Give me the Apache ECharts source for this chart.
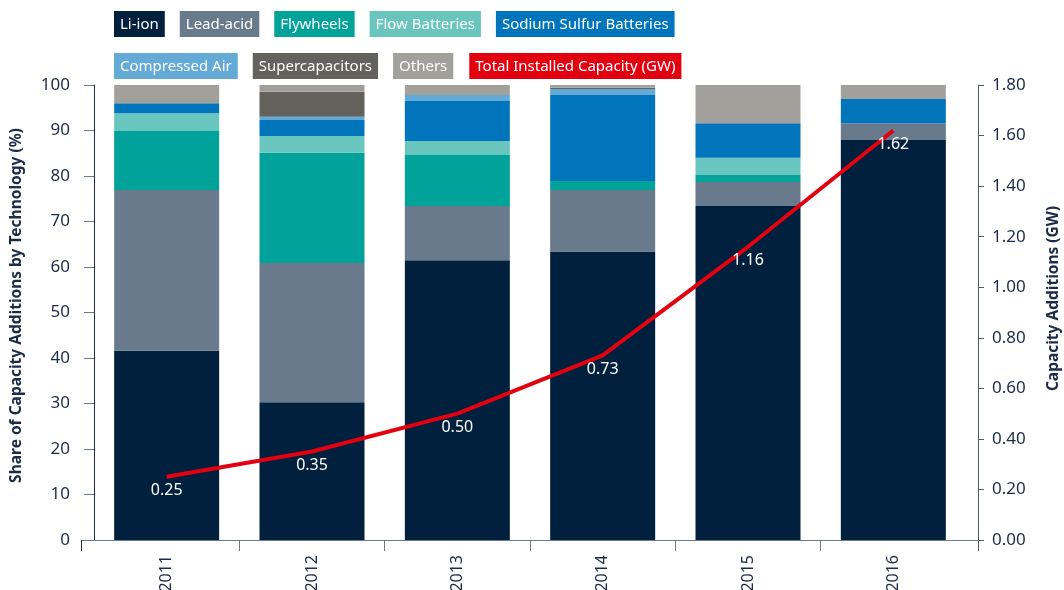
<!DOCTYPE html>
<html>
<head>
<meta charset="utf-8">
<script src="https://cdn.jsdelivr.net/npm/echarts@6/dist/echarts.min.js"></script>
<style>
  html, body { margin: 0; padding: 0; background: #fff; }
  #chart { width: 1064px; height: 590px; }
</style>
</head>
<body>
<div id="chart"></div>
<script>
// data
var years = ["2011", "2012", "2013", "2014", "2015", "2016"];
var liIon = [41.6, 30.3, 61.5, 63.4, 73.4, 87.9];
var leadAcid = [35.3, 30.6, 11.9, 13.5, 5.3, 3.7];
var flywheels = [13.0, 24.2, 11.2, 2.0, 1.5, 0];
var flowBatteries = [3.9, 3.7, 3.1, 0, 3.8, 0];
var sodiumSulfur = [2.2, 3.5, 8.8, 18.9, 7.6, 5.3];
var compressedAir = [0, 0.7, 1.3, 1.3, 0, 0];
var supercapacitors = [0, 5.5, 0, 0.3, 0, 0];
var others = [4.0, 1.5, 2.2, 0.6, 8.4, 3.1];
var totalCapacity = [0.25, 0.35, 0.50, 0.73, 1.16, 1.62];

var names = ["Li-ion", "Lead-acid", "Flywheels", "Flow Batteries", "Sodium Sulfur Batteries",
  "Compressed Air", "Supercapacitors", "Others", "Total Installed Capacity (GW)"];
var colors = ["#00203d", "#687a8b", "#00a29a", "#68c6bf", "#0075bb",
  "#64aad7", "#63625c", "#a2a09b", "#e3000f"];
var barData = [liIon, leadAcid, flywheels, flowBatteries, sodiumSulfur,
  compressedAir, supercapacitors, others];

var font = "Noto Sans";
var navy = "#1c2b48";

var rich = {};
names.forEach(function (n, i) {
  rich["c" + i] = {
    backgroundColor: colors[i],
    color: "#fff",
    fontFamily: font,
    fontSize: 15,
    padding: [6, 6, 5, 6],
  };
});
function legendFmt(name) {
  return "{c" + names.indexOf(name) + "|" + name + "}";
}
function legendRow(data, top) {
  return {
    data: data,
    left: 109,
    top: top,
    itemWidth: 0,
    itemHeight: 0,
    itemGap: 10,
    padding: 0,
    selectedMode: false,
    formatter: legendFmt,
    textStyle: { rich: rich },
  };
}

var series = barData.map(function (d, i) {
  return {
    name: names[i],
    type: "bar",
    stack: "share",
    data: d,
    barWidth: 105,
    itemStyle: { color: colors[i] },
  };
});
series.push({
  name: names[8],
  type: "line",
  yAxisIndex: 1,
  data: totalCapacity,
  symbol: "circle",
  symbolSize: 0,
  showSymbol: true,
  color: colors[8],
  lineStyle: { color: colors[8], width: 4 },
  label: {
    show: true,
    position: "bottom",
    distance: 6,
    color: "#fff",
    fontFamily: font,
    fontSize: 16,
    formatter: function (p) {
      return p.value.toFixed(2);
    },
  },
  z: 5,
});

var myChart = echarts.init(document.getElementById("chart"));
var option = {
  animation: false,
  textStyle: { fontFamily: font },
  legend: [
    legendRow(names.slice(0, 5), 11),
    legendRow(names.slice(5), 53),
  ],
  grid: { left: 94, right: 98, top: 85, bottom: 50, outerBoundsMode: "none" },
  xAxis: [
    {
      type: "category",
      data: years,
      axisLine: { lineStyle: { color: "#6b7a8c", width: 1 } },
      axisTick: { show: false },
      axisLabel: {
        rotate: 90,
        interval: 0,
        margin: 15,
        color: navy,
        fontSize: 16,
        fontFamily: font,
      },
    },
    {
      // only carries the ticks between the years
      type: "value",
      position: "bottom",
      min: 0,
      max: 6,
      interval: 1,
      axisLine: { show: false },
      axisLabel: { show: false },
      splitLine: { show: false },
      axisTick: {
        show: true,
        length: 11,
        customValues: [1, 2, 3, 4, 5],
        lineStyle: { color: "#6b7a8c" },
      },
    },
  ],
  yAxis: [
    {
      type: "value",
      min: 0,
      max: 100,
      interval: 10,
      offset: 13,
      name: "Share of Capacity Additions by Technology (%)",
      nameLocation: "middle",
      nameRotate: 90,
      nameGap: 56,
      nameTextStyle: {
        color: navy, fontSize: 15.5, fontWeight: "bold", fontFamily: font,
        padding: [0, 0, 0, 14],
      },
      axisLine: { show: true, lineStyle: { color: navy } },
      axisTick: { show: true, length: 10, lineStyle: { color: "#6b7a8c" } },
      axisLabel: { color: navy, fontSize: 17, margin: 11, fontFamily: font },
      splitLine: { show: false },
    },
    {
      type: "value",
      min: 0,
      max: 1.8,
      interval: 0.2,
      offset: 12,
      position: "right",
      name: "Capacity Additions (GW)",
      nameLocation: "middle",
      nameRotate: 90,
      nameGap: 68,
      nameTextStyle: {
        color: navy, fontSize: 15.5, fontWeight: "bold", fontFamily: font,
        padding: [0, 0, 0, 28],
      },
      axisLine: { show: true, lineStyle: { color: "#4d5d70" } },
      axisTick: { show: true, length: 6, lineStyle: { color: "#4d5d70" } },
      axisLabel: {
        color: navy,
        fontSize: 17,
        margin: 14,
        fontFamily: font,
        formatter: function (v) {
          return v.toFixed(2);
        },
      },
      splitLine: { show: false },
    },
  ],
  // extend the base line out to the offset value axes
  graphic: [
    { type: "line", shape: { x1: 81, y1: 540.5, x2: 94, y2: 540.5 }, style: { stroke: "#6b7a8c", lineWidth: 1 } },
    { type: "line", shape: { x1: 966, y1: 540.5, x2: 978, y2: 540.5 }, style: { stroke: "#6b7a8c", lineWidth: 1 } },
    { type: "line", shape: { x1: 81.5, y1: 540, x2: 81.5, y2: 551 }, style: { stroke: navy, lineWidth: 1 } },
    { type: "line", shape: { x1: 978.5, y1: 540, x2: 978.5, y2: 551 }, style: { stroke: "#4d5d70", lineWidth: 1 } },
  ],
  series: series,
};
myChart.setOption(option, true);
</script>
</body>
</html>
